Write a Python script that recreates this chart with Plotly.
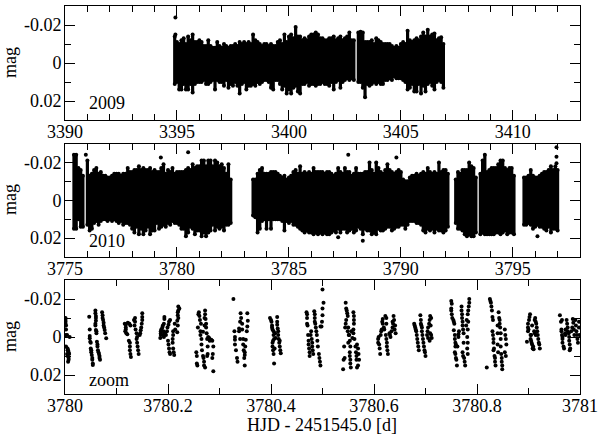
import plotly.graph_objects as go

STEP = 0.1
FONT = "Liberation Serif"

# Upper / lower envelope of the dense light curve, in mmag, one value per 0.1 d
p1a_start = 3394.9
p1a_top = [14,
           11,10,12,13,10,14,12,15,11,11,
           12,11,9,9,12,9,8,8,11,9,
           8,10,9,8,9,9,10,9,11,10,
           11,10,11,10,15,12,11,10,9,10,
           10,9,10,9,9,11,12,10,15,11,
           14,15,13,19,14,14,12,13,12,14,
           15,15,16,15,13,13,12,12,13,13,
           14,12,13,14,12,13,14,16,12,12]
p1a_bot = [11,
           10,14,14,11,14,14,11,15.5,11,10,
           10,10,9,11,11,10,9,14,9,10,
           10,12,9,13,11,12,10,12,16,11,
           10,14,12,12,11,12,10,11,10,9,
           9,10,13,14,9,9,11,14,12,16,
           14,16,13,12,15,16,11,11,10,12,
           11,11,12,11,11,10,11,11,12,10,
           14,10,9,13,10,9,8,9,8,9]
p1b_start = 3403.1
p1b_top = [16,16.5,16,11,11,11,12,10,13,
           12,11,10,10,10,10,9,8,9,8,
           10,11,10,17,12,11,12,13,12,14,
           16,14,17.5,14,15,15.5,12,13,13.5,10]
p1b_bot = [10,10,13,18,11,12,11,10,11,
           10,11,11,9,9,8,9,7,8,8,
           8,9,10,14,13,11,15,15,11,16,
           12,15,11,10,12,14,10,9,10,13]
p1_out_x = [3394.93, 3394.93]
p1_out_m = [-24, -15]

p2a_start = 3775.4
p2a_top = [24,24,17,16,13]
p2a_bot = [15,15,10,14,14]
p2b_start = 3776.0
p2b_top = [21,
           13,14,16,17,14,15,13,13,12,12,
           13,14,14,14,13,14,14,17,15,15,
           16,16,18,16,17,16,16,17,15,16,
           15,15,17,19,14,16,15,17,14,15,
           15,15,15,16,17,16,19,17,18,18,
           21,21,18,21,21,18,21,20,18,19,
           17,14,19,11]
p2b_bot = [13,
           16,15,12,11,13,11,10,10,11,10,
           11,10,11,12,11,13,12,12,13,15,
           17,14,18,15,18,16,14,18,16,16,
           12,15,14,13,14,12,13,11,12,12,
           13,15,15,19,17,14,15,18,16,16,
           19,17,19,17,16,13,16,14,15,14,
           16,13,13,12]
p2c_start = 3783.4
p2c_top = [11,11,14,16,17,14,
           14,14,15,15,15,14,13,12,13,11,
           12,13,15,16,14,18,14,15,14,15,
           14,17,15,15,15,15,14,15,15,14,
           13,14,17,15,14,17,15,15,13,14,
           17,14,14,14,15,15,20,16,14,20,
           17,15,14,16,19,16,15,14,15,16,
           15,11,10,10,12,13,13,14,13,14,
           15,14,17,15,14,15,14,20,15,16,
           16,14]
p2c_bot = [8,9,17,15,11,10,
           15,10,15,10,10,10,10,11,16,11,
           12,11,13,13,14,15,16,17,16,17,
           17,18,17,18,17,18,17,18,18,17,
           16,17,15,17,15,15,17,16,15,17,
           16,14,15,18,15,16,16,18,17,18,
           15,16,16,15,14,14,16,15,14,14,
           13,13,15,13,11,11,11,12,12,13,
           16,17,15,16,15,17,15,16,16,17,
           16,14]
p2d_start = 3792.45
p2d_top = [11,15,14,16,16,16,20,18,17,12]
p2d_bot = [12,15,15,16,18,19,18,19,19,17]
p2e_start = 3793.55
p2e_top = [14,21,24,15,16,17,17,17,19,21,21,17,16,17,17,13]
p2e_bot = [18,17,18,18,18,18,18,17,17,18,17,16,18,17,17,18]
p2f_start = 3795.5
p2f_top = [12,12,13,16,13,12,12,13,14,15,15,16,18,16,18,16]
p2f_bot = [13,13,12,13,15,14,13,14,14,15,16,14,17,15,15,16]
p2_out_x = [3775.93, 3779.28, 3780.5, 3787.65, 3788.3, 3787.2, 3789.8, 3796.95, 3796.95, 3796.95, 3796.1]
p2_out_m = [-24, -22.6, -25.4, -24, 21.4, 19.6, -22.6, -28, -23, -19.5, 19]

# Zoom panel: (x in 0.001 d after 3780, mag in mmag), one list per orbit
c00 = [(1,-10),(1,-9),(1,-8),(1,-7),(2,-6),(2,-4),(2,-1),(4,-1),(9,0),(2,5),(5,6),(6,7),(7,8),(4,9),(8,9),(5,10),(7,11),(7,12),(6,13),(5,7)]
c01 = [(47,-10.7),(48,-4),(48,-0.5),(48,0.7),(49,2.5),(50,3),(50,6),(51,7),(51,8),(52,9.5),(53,11),(53,12),(54,14),(54,14.7),
       (59,-14),(59,-12.5),(60,-11),(60,-10),(60,-8.6),(59,-7),(59,-6),(60,-3.7),(61,-3),(61,-2),(62,2.5),(63,4),(63,5),(64,7),(65,8),(66,9),(67,10),(67,11),(68,12),
       (72,-13),(73,-11.5),(73,-10),(74,-9),(75,-7.5),(75,-6),(76,-5),(77,-3.7),(78,-2),(80,0.7)]
c02 = [(116,-7),(118,-6.5),(118,-5),(118,-4),(117,-3),(119,-2),(121,-1.5),(122,-7.5),(125,-7),(127,-6),(124,2),(126,3),(126,5),(126,7),(127,9),(128,10.5),
       (134,-9),(136,-10),(136,-8),(135,-6),(137,-4),(139,-2),(140,0),(139,1),(140,3),(141,5),(142,7),(143,9),
       (150,-12.5),(150,-10.5),(150,-9),(149,-7),(148,-5),(147,-3.5),(146,-2),(145,-1)]
c03 = [(185,0.5),(186,-1),(186,-3),(187,-4),(186,-2),(189,-5),(190,-6),(192,-7),(193,-9.5),(193,-10.5),(191,-3),(191,-1),(192,0),(194,-2),(196,-1),(198,-3),(199,-5),(201,-6.5),(202,-8),(204,-9),
       (200,2),(201,4),(202,6),(203,8),(204,9),(210,-3),(210,-1),(209,1),(209,3),(210,6),(211,8),(212,9.5),(213,-7),(214,-4),(218,-2.5),(219,-6),(220,-10),(219,-11.5),(219,-13),(220,-14),(220,-16),(222,-15),(218,-8.5)]
c04 = [(255,8),(256,10),(256,14),(257,15),(258,-5),(259,-12),(260,-13),(261,-11),(262,-9),(263,-3),(263,-1),(265,1),(265,4),(266,7),(268,10),(269,11),(270,13),(270,15),(272,16),(268,-2.8),(264,-7),
       (271,-6),(271,-10),(272,-12),(272,-14),(273,-9.5),(274,-7),(274,-5),(275,-2),(276,1),(278,0),(280,0.5),(281,2),(277,5),(277,9),(276,10),(288,18),(286,2),(284,1.5),(288,5),(287,9),(286,11)]
c05 = [(327,-20),(329,-3),(330,0),(330,1.5),(330,4),(332,7),(334,11),(335,13),(338,-4.5),(338,-3),(340,1),(340,-8),(341,-12.5),(342,-10),(344,-7),(344,-4),(346,1),(346,4),(347,7),(349,9.5),(349,15),
       (354,-12.5),(355,-8.5),(354,-5.5),(353,-3),(351,1.5),(350,5),(349,8),(348,11)]
c06 = [(398,-10),(400,-9),(401,-8),(402,-6),(402,-5),(403,-4),(405,-3),(405,-1),(406,1),(404,2),(403,3),(403,5),(404,7),(405,9),(406,14),
       (412,-10.5),(412,-8),(412,-6.5),(413,-4.5),(414,-3),(414,-1),(415,1),(416,3),(417,5),(418,7),(419,8.5),(408,-2),(409,0.5),(407,6),(417,2)]
c07 = [(500,-25),(469,-13),(470,-12),(470,-10),(470,-7),(471,-6),(472,-1),(473,2),(473,4),(474,6),(475,8),(475,10),(477,-1),(478,-3),(479,1),(480,3),(480,5),(481,7),(482,9),
       (484,-13.5),(485,-12),(485,-10),(485,-8),(486,-7),(487,-5),(488,-3),(489,-1),(490,2),(491,5),(493,9),(494,11),(495,13),(496,15),(498,-5.5),(499,-8),(502,-18),(500,-15),(500,-11.5),(496,-5.5)]
c08 = [(540,17),(541,12),(542,5),(543,11),(544,-5),(545,-7),(546,-9),(545,-18),(546,-15),(547,-14),(548,-12.5),(549,-11),(549,-3),(550,-5),(551,-1),(552,-1),(550,3),(553,2),(554,5),(553,8),(553,10),(554,12),(554,14),(555,16),(556,-3),(558,0.5),
       (560,-13),(561,-11),(561,-9),(561,-7),(560,-4),(560,-2),(562,1),(564,5),(565,8),(566,10),(566,12),(567,16),(569,6),(570,9),(571,12),(569,15),(567,4)]
c09 = [(608,1),(608,3),(609,0),(610,4),(611,6),(612,9),(613,-1),(614,-3),(615,-4),(616,-8),(617,-9.5),(617,-7),(619,-5),(620,-4),(622,-11),(624,-10),(624,-7),(623,-1),(624,1),(625,3),(625,5),(626,7),(627,9),
       (630,-2),(631,-1),(632,0),(634,-3),(636,-5),(637,-7),(638,-11),(639,-9),(640,-4),(641,-6),(642,-2),(636,-8)]
c10 = [(678,-7),(679,-6),(680,-5),(681,-4),(682,-3),(683,-1),(684,1),(685,3),(686,5),(687,7),(690,-11.5),(691,-9),(691,-7),(692,-6),(693,-5),(693,-3),(694,-1),(695,1),(696,3),(697,5),(698,7),(699,8),(700,10),
       (703,-1),(704,-3),(705,-5),(707,-7),(708,-9),(709,-11),(711,-10),(710,-6),(709,-2),(711,-1),(712,0.5),(708,2),(705,0.5)]
c11 = [(750,-19),(751,-17.5),(750,-15),(750,-14),(751,-12),(752,-10),(754,-9),(755,-8),(756,-7),(755,-3.5),(757,-1),(757,1),(758,3),(758,5),(757,8),(758,9),(759,11),(760,12),(761,15),(759,4),(764,-1.5),(765,-3),(764,0),(762,5),
       (770,-16),(770,-14),(771,-12),(771,-10),(772,-8),(772,-6),(773,-4),(774,-2),(774,3),(772,8),(773,10),(775,11),(776,13),(777,15),(779,-6),(780,-9),(782,-12),(783,-14),(784,-16),(785,-18),(785,-20),(783,-8),(782,-4),(781,0),(782,3),(781,6),(782,9)]
c12 = [(819,16),(825,-20),(826,-19),(827,-18),(828,-16),(829,-14),(830,-10.5),(831,-9),(830,-3),(831,-1),(832,1),(832,3),(833,6),(832,7),(834,10),(835,11),(835,13),(836,15),(840,-2),(840,4),(841,8),(840,-6),
       (842,-13),(843,-10),(844,-9),(844,-7),(845,-5),(846,-2),(846,1),(846,5),(847,9),(848,11),(848,13),(849,15),(849,17),(854,-4),(855,-1),(856,1),(857,4),(854,8),(856,10)]
c13 = [(897,2.5),(899,-3),(899,-5),(899,-7),(900,-4),(901,-9),(902,-10.5),(903,-12),(904,-1),(904,1),(905,2),(906,3),(907,4),(908,6),(910,6.5),(911,-3),(912,-2),(912,-9),(913,-10),(914,-8),(915,-7),(916,-5),(917,-3),(918,-1),(919,1),(920,3),(921,4),(922,6),(907,-6),(909,5),(905,-1),(914,-1)]
c14 = [(961,-11.5),(963,-8),(965,-9),(964,-4),(964,-3),(965,-1),(966,0),(966,1),(966,3),(968,5),(969,6),(971,-2),(972,-4),(972,-1),(974,-9),(975,-7),(976,-5),(976,-3),(978,-2),(979,0),(979,2),(980,4),(981,6),(980,7),
       (983,-3),(985,-5),(986,-9.5),(987,-7.5),(988,-4),(989,-1),(991,-9),(992,-6),(993,-3),(994,-1),(995,1),(996,3),(998,-8),(998,-5),(999,-1)]
orbits = [c00,c01,c02,c03,c04,c05,c06,c07,c08,c09,c10,c11,c12,c13,c14]

y_tickvals = [-0.02, 0, 0.02]
y_ticktext = ["-0.02", "0", "0.02"]
ticks_2009 = [3390, 3395, 3400, 3405, 3410]
ticks_2010 = [3775, 3780, 3785, 3790, 3795]
ticks_zoom = [3780, 3780.2, 3780.4, 3780.6, 3780.8, 3781]
ticktext_zoom = ["3780", "3780.2", "3780.4", "3780.6", "3780.8", "3781"]


def band(segments):
    xs, ys = [], []
    for start, tops, bots in segments:
        for i, (t, b) in enumerate(zip(tops, bots)):
            x = start + i * STEP
            xs += [x, x, None]
            ys += [-t / 1000, b / 1000, None]
    return xs, ys


fig = go.Figure()


def add_band(segments, out_x, out_m, ax):
    xs, ys = band(segments)
    fig.add_trace(go.Scatter(x=xs, y=ys, xaxis=f"x{ax}", yaxis=f"y{ax}", mode="lines+markers",
                             line=dict(color="black", width=3.2), marker=dict(color="black", size=4),
                             hoverinfo="skip", showlegend=False))
    fig.add_trace(go.Scatter(x=out_x, y=[m / 1000 for m in out_m], xaxis=f"x{ax}", yaxis=f"y{ax}", mode="markers",
                             marker=dict(color="black", size=4), showlegend=False))


add_band([(p1a_start, p1a_top, p1a_bot), (p1b_start, p1b_top, p1b_bot)], p1_out_x, p1_out_m, "")
add_band([(p2a_start, p2a_top, p2a_bot), (p2b_start, p2b_top, p2b_bot), (p2c_start, p2c_top, p2c_bot),
          (p2d_start, p2d_top, p2d_bot), (p2e_start, p2e_top, p2e_bot), (p2f_start, p2f_top, p2f_bot)],
         p2_out_x, p2_out_m, "2")

zx = [3780 + p[0] / 1000 for c in orbits for p in c]
zy = [p[1] / 1000 for c in orbits for p in c]
fig.add_trace(go.Scatter(x=zx, y=zy, xaxis="x3", yaxis="y3", mode="markers",
                         marker=dict(color="black", size=4), showlegend=False))

W, H = 600, 435
xdom = [65 / W, 580 / W]
label_font = dict(family=FONT, size=18, color="black")


def xax(rng, vals, text, minor_dtick, anchor):
    return dict(domain=xdom, range=rng, anchor=anchor, automargin=False, tickmode="array", tickvals=vals, ticktext=text,
                ticks="inside", ticklen=10, tickcolor="black", tickwidth=1, showline=True, linecolor="black",
                linewidth=1, mirror="ticks", showgrid=False, zeroline=False, ticklabelstandoff=-5,
                minor=dict(ticks="inside", ticklen=6, dtick=minor_dtick, tick0=rng[0], tickcolor="black", tickwidth=1, showgrid=False),
                tickfont=label_font)


def yax(top, bot, anchor):
    return dict(domain=[1 - bot / H, 1 - top / H], range=[0.03, -0.03], anchor=anchor, automargin=False, tickmode="array",
                tickvals=y_tickvals, ticktext=y_ticktext, ticks="inside", ticklen=10, tickcolor="black", tickwidth=1,
                showline=True, linecolor="black", linewidth=1, mirror="ticks", showgrid=False, zeroline=False, ticklabelstandoff=-1,
                minor=dict(ticks="inside", ticklen=6, dtick=0.01, tick0=0, tickcolor="black", tickwidth=1, showgrid=False),
                tickfont=label_font)


notes = [dict(text=t, xref="paper", yref="paper", x=87 / W, y=1 - yp / H, xanchor="left", yanchor="middle",
              showarrow=False, font=label_font)
         for t, yp in [("2009", 103), ("2010", 241), ("zoom", 380)]]
notes += [dict(text="mag", xref="paper", yref="paper", x=10 / W, y=1 - yp / H, xanchor="center", yanchor="middle",
               textangle=-90, showarrow=False, font=label_font) for yp in [63, 200, 337]]
notes.append(dict(text="HJD - 2451545.0 [d]", xref="paper", yref="paper", x=322 / W, y=1 - 424.5 / H,
                  xanchor="center", yanchor="middle", showarrow=False, borderpad=0, font=label_font))

fig.update_layout(
    width=W, height=H, margin=dict(l=0, r=0, t=0, b=0), autosize=False,
    paper_bgcolor="white", plot_bgcolor="white", showlegend=False,
    xaxis=xax([3390, 3413], ticks_2009, [str(v) for v in ticks_2009], 1, "y"),
    xaxis2=xax([3775, 3798], ticks_2010, [str(v) for v in ticks_2010], 1, "y2"),
    xaxis3=xax([3780, 3781], ticks_zoom, ticktext_zoom, 0.1, "y3"),
    yaxis=yax(6, 120, "x"), yaxis2=yax(143.5, 257, "x2"), yaxis3=yax(280, 394, "x3"),
    annotations=notes,
)
fig.write_html("out.html", config=dict(displayModeBar=False), post_script="document.body.style.margin='0';")
